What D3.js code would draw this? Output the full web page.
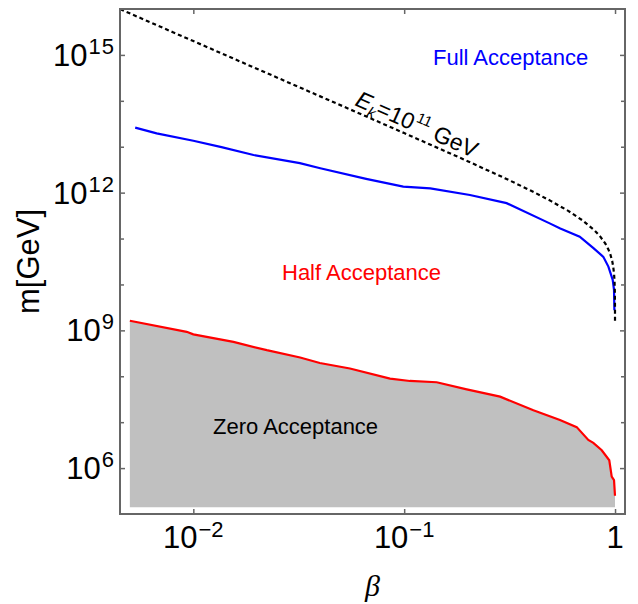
<!DOCTYPE html>
<html><head><meta charset="utf-8">
<script src="https://cdn.jsdelivr.net/npm/d3@7"></script>
<style>body{margin:0;background:#fff} svg{display:block}</style>
</head><body>
<svg id="c" width="638" height="604"></svg>
<script>
// E_k = 10^11 GeV contour (dashed)
const energyBeta = [0.0045, 0.006, 0.008, 0.01, 0.02, 0.04, 0.07, 0.1, 0.2, 0.3, 0.4, 0.5, 0.6, 0.7, 0.8, 0.85, 0.9, 0.93, 0.95, 0.97, 0.98, 0.99, 0.995, 0.998, 0.9995, 0.9999];
const energyMass = [9.9e15, 5.56e15, 3.12e15, 2.0e15, 5.0e14, 1.25e14, 4.07e13, 1.98e13, 4.85e12, 2.07e12, 1.10e12, 6.46e11, 4.0e11, 2.5e11, 1.5e11, 1.11e11, 7.73e10, 5.81e10, 4.54e10, 3.21e10, 2.48e10, 1.64e10, 1.11e10, 6.75e9, 3.26e9, 1.43e9];
// Full acceptance boundary (blue)
const fullBeta = [0.0053, 0.0067, 0.01, 0.0136, 0.0193, 0.032, 0.04, 0.066, 0.099, 0.133, 0.205, 0.306, 0.49, 0.55, 0.68, 0.79, 0.88, 0.93, 0.975, 0.989, 0.993];
const fullMass = [2.6e13, 1.95e13, 1.35e13, 9.8e12, 6.6e12, 4.4e12, 3.4e12, 2.0e12, 1.35e12, 1.24e12, 8.9e11, 5.9e11, 2.14e11, 1.66e11, 1.1e11, 6.2e10, 4.0e10, 2.45e10, 1.26e10, 7.6e9, 2.75e9];
// Half acceptance boundary (red)
const halfBeta = [0.005, 0.0093, 0.01, 0.0155, 0.0223, 0.0321, 0.0398, 0.0553, 0.0857, 0.1064, 0.1426, 0.198, 0.285, 0.41, 0.548, 0.658, 0.747, 0.789, 0.865, 0.939, 0.9645, 0.989, 0.9995];
const halfMass = [1.62e9, 9.3e8, 8.2e8, 5.6e8, 3.7e8, 2.57e8, 1.95e8, 1.48e8, 8.9e7, 7.9e7, 7.4e7, 5.2e7, 3.6e7, 1.82e7, 1.12e7, 7.8e6, 4.1e6, 3.55e6, 2.45e6, 1.48e6, 6.5e5, 5.5e5, 2.5e5];
const zeroFloor = 1.4e5;

const xTickValues = [0.01, 0.1, 1];
const xTickExponents = ["\u22122", "\u22121", ""];
const yMajorTicks = [1e6, 1e9, 1e12, 1e15];
const yMajorExponents = ["6", "9", "12", "15"];
const yMinorTicks = [1e7, 1e8, 1e10, 1e11, 1e13, 1e14];

const svg = d3.select("#c");
const L = 120, R = 625, T = 9, B = 514;
const x = d3.scaleLog().domain([0.00449, 1.115]).range([L, R]);
const y = d3.scaleLog().domain([1e5, 1e16]).range([B, T]);
const axisColor = "#666";
const font = "'Liberation Sans', Arial, Helvetica, sans-serif";

svg.append("defs").append("clipPath").attr("id", "clip")
  .append("rect").attr("x", L).attr("y", T).attr("width", R - L).attr("height", B - T);
const plot = svg.append("g").attr("clip-path", "url(#clip)");

const zip = (a, b) => a.map((v, i) => [v, b[i]]);
const halfData = zip(halfBeta, halfMass);
const fullData = zip(fullBeta, fullMass);
const energyData = zip(energyBeta, energyMass);

plot.append("path").datum(halfData)
  .attr("d", d3.area().x(d => x(d[0])).y0(y(zeroFloor)).y1(d => y(d[1])))
  .attr("fill", "#c0c0c0");

const line = d3.line().x(d => x(d[0])).y(d => y(d[1]));
plot.append("path").datum(halfData).attr("d", line)
  .attr("fill", "none").attr("stroke", "#ff0000").attr("stroke-width", 2.2);
plot.append("path").datum(fullData).attr("d", line)
  .attr("fill", "none").attr("stroke", "#0000ff").attr("stroke-width", 2.2);
plot.append("path").datum(energyData).attr("d", line)
  .attr("fill", "none").attr("stroke", "#000").attr("stroke-width", 2.2)
  .attr("stroke-dasharray", "4,3");

// axes (ticks only, inward)
function styleAxis(g) {
  g.select(".domain").remove();
  g.selectAll(".tick line").attr("stroke", axisColor).attr("stroke-width", 1.5);
  g.selectAll(".tick text").remove();
}
svg.append("g").attr("transform", `translate(0,${B})`)
  .call(d3.axisBottom(x).tickValues(xTickValues).tickSize(-5)).call(styleAxis);
svg.append("g").attr("transform", `translate(0,${T})`)
  .call(d3.axisTop(x).tickValues(xTickValues).tickSize(-5)).call(styleAxis);
svg.append("g").attr("transform", `translate(${L},0)`)
  .call(d3.axisLeft(y).tickValues(yMajorTicks).tickSize(-5)).call(styleAxis);
svg.append("g").attr("transform", `translate(${L},0)`)
  .call(d3.axisLeft(y).tickValues(yMinorTicks).tickSize(-4)).call(styleAxis);
svg.append("g").attr("transform", `translate(${R},0)`)
  .call(d3.axisRight(y).tickValues(yMajorTicks).tickSize(-5)).call(styleAxis);
svg.append("g").attr("transform", `translate(${R},0)`)
  .call(d3.axisRight(y).tickValues(yMinorTicks).tickSize(-4)).call(styleAxis);

// frame
svg.append("rect").attr("x", L).attr("y", T).attr("width", R - L).attr("height", B - T)
  .attr("fill", "none").attr("stroke", axisColor).attr("stroke-width", 2);

// x tick labels
xTickValues.forEach((v, i) => {
  const t = svg.append("text").attr("x", x(v)).attr("y", 548)
    .attr("text-anchor", "middle").attr("font-family", font).attr("font-size", 31).attr("fill", "#000");
  if (xTickExponents[i] === "") { t.text("1"); return; }
  t.append("tspan").text("10");
  t.append("tspan").attr("dx", 1).attr("dy", -11).attr("font-size", 22).text(xTickExponents[i]);
});
// y tick labels
yMajorTicks.forEach((v, i) => {
  const t = svg.append("text").attr("x", 115).attr("y", y(v) + 11)
    .attr("text-anchor", "end").attr("font-family", font).attr("font-size", 31).attr("fill", "#000");
  t.append("tspan").text("10");
  t.append("tspan").attr("dx", 1).attr("dy", -12).attr("font-size", 22).attr("letter-spacing", 1).text(yMajorExponents[i]);
});

// axis titles
svg.append("text").attr("transform", `translate(39,${(T + B) / 2}) rotate(-90)`)
  .attr("text-anchor", "middle").attr("font-family", font).attr("font-size", 31).text("m[GeV]");
svg.append("text").attr("x", (L + R) / 2).attr("y", 596).attr("text-anchor", "middle")
  .attr("font-family", "'Liberation Serif', 'DejaVu Serif', serif").attr("font-style", "italic")
  .attr("font-size", 30).text("\u03B2");

// region labels
svg.append("text").attr("x", 433).attr("y", 65).attr("font-family", font).attr("font-size", 22)
  .attr("fill", "#0000ff").text("Full Acceptance");
svg.append("text").attr("x", 282).attr("y", 280).attr("font-family", font).attr("font-size", 22)
  .attr("fill", "#ff0000").text("Half Acceptance");
svg.append("text").attr("x", 213).attr("y", 434).attr("font-family", font).attr("font-size", 22)
  .attr("fill", "#000").text("Zero Acceptance");

// E_k label along dashed line
const ek = svg.append("text").attr("transform", "translate(354,105) rotate(24)")
  .attr("font-family", font).attr("font-size", 23).attr("fill", "#000");
ek.append("tspan").attr("font-style", "italic").text("E");
ek.append("tspan").attr("font-style", "italic").attr("font-size", 15).attr("dy", 5).text("k");
ek.append("tspan").attr("dy", -5).text("=10");
ek.append("tspan").attr("font-size", 15).attr("dy", -10).attr("dx", 1).text("11");
ek.append("tspan").attr("dy", 10).text(" GeV");
</script>
</body></html>
